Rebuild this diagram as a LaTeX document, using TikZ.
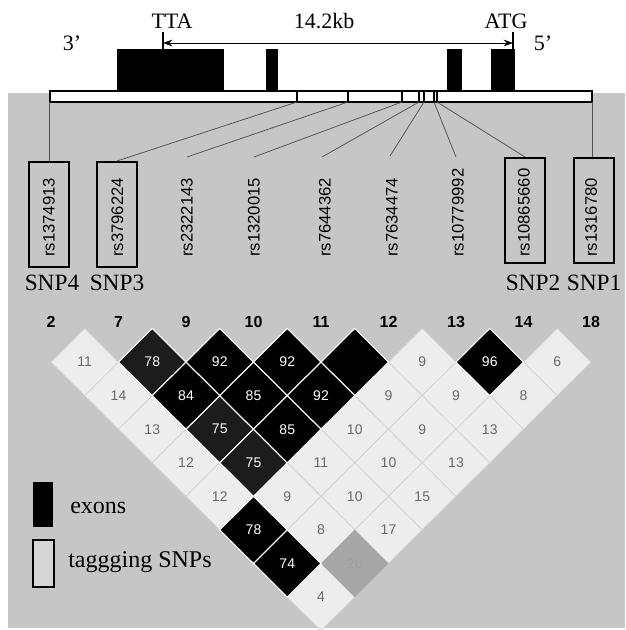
\documentclass[tikz,border=0pt]{standalone}
\usepackage{fontspec}
\setmainfont{Liberation Serif}
\setsansfont{Liberation Sans}
\usetikzlibrary{arrows.meta}
\definecolor{bggray}{HTML}{C6C6C6}
\definecolor{lightcell}{HTML}{EDEDED}
\definecolor{lightedge}{HTML}{D2D2D2}
\definecolor{midcell}{HTML}{A6A6A6}
\definecolor{darkcell}{HTML}{1C1C1C}
\definecolor{numgray}{HTML}{6A6A6A}
\definecolor{leader}{HTML}{505050}
\definecolor{legfill}{HTML}{D6D6D6}
\tikzset{
  toplbl/.style={font=\fontsize{16.5}{18}\selectfont, inner sep=0pt},
  rslbl/.style={font=\sffamily\fontsize{12.5}{14}\selectfont, rotate=90, anchor=west, inner sep=0pt},
  snplbl/.style={font=\fontsize{17.5}{20}\selectfont, inner sep=0pt},
  hdr/.style={font=\sffamily\bfseries\fontsize{12}{14}\selectfont, inner sep=0pt},
  snpbox/.style={draw, line width=1.5pt, minimum width=30pt, minimum height=78.75pt, inner sep=0pt},
  leadline/.style={draw=leader, line width=0.55pt},
  exon/.style={fill=black},
  cellL/.style={fill=lightcell, draw=lightedge, line width=0.5pt},
  cellG/.style={fill=midcell},
  cellD/.style={fill=darkcell, draw=white, line width=0.8pt},
  cellB/.style={fill=black, draw=white, line width=0.8pt},
  numL/.style={font=\sffamily\fontsize{10.5}{12}\selectfont, text=numgray, inner sep=0pt},
  numG/.style={font=\sffamily\fontsize{10.5}{12}\selectfont, text=gray!75, inner sep=0pt},
  numD/.style={font=\sffamily\fontsize{10.5}{12}\selectfont, text=white, inner sep=0pt},
  numB/.style={font=\sffamily\fontsize{10.5}{12}\selectfont, text=white, inner sep=0pt},
  legtext/.style={font=\fontsize{18}{20}\selectfont, inner sep=0pt, anchor=base west},
}
\begin{document}
\begin{tikzpicture}[x=0.75pt,y=-0.75pt]
\useasboundingbox (0,0) rectangle (625,630);
\fill[white] (0,0) rectangle (625,630);
\fill[bggray] (8,93) rectangle (625,628);

% ---- gene structure ----
\fill[exon] (117,49) rectangle (224,91);
\fill[exon] (266,49) rectangle (278,91);
\fill[exon] (447,49) rectangle (462,91);
\fill[exon] (491,49) rectangle (515,91);
\draw[fill=white, line width=0.8pt] (50,91) rectangle (592,102);
\foreach \tx in {297,348,402,419,424,434,437}
  \draw[line width=1.2pt] (\tx,91) -- (\tx,102);

\node[toplbl] (tta) at (172,21) {TTA};
\node[toplbl] (kb) at (324,21) {14.2kb};
\node[toplbl] (atg) at (506,21) {ATG};
\node[toplbl] (three) at (72,43) {3'};
\node[toplbl] (five) at (543,43) {5'};

\coordinate (ttaT) at (163,32);
\coordinate (ttaB) at (163,49);
\coordinate (atgT) at (513,32);
\coordinate (atgB) at (513,49);
\coordinate (ttaA) at (163,43);
\coordinate (atgA) at (513,43);
\draw[line width=0.8pt] (ttaT) -- (ttaB);
\draw[line width=0.8pt] (atgT) -- (atgB);
\draw[line width=0.6pt, {Stealth[length=7pt,width=5pt]}-{Stealth[length=7pt,width=5pt]}] (ttaA) -- (atgA);

% ---- SNP labels ----
\node[snpbox] (b1) at (49,214.5) {};
\node[snpbox] (b2) at (117,214.5) {};
\node[snpbox] (b8) at (525,210.5) {};
\node[snpbox] (b9) at (593.5,210.5) {};

\node[rslbl] (t1) at (49,257) {rs1374913};
\node[rslbl] (t2) at (117.5,257) {rs3796224};
\node[rslbl] (t3) at (187,257) {rs2322143};
\node[rslbl] (t4) at (254,257) {rs1320015};
\node[rslbl] (t5) at (325,257) {rs7644362};
\node[rslbl] (t6) at (392,257) {rs7634474};
\node[rslbl] (t7) at (458,257) {rs10779992};
\node[rslbl] (t8) at (524,257) {rs10865660};
\node[rslbl] (t9) at (591,257) {rs1316780};

% leader lines from gene bar
\coordinate (p1) at (49,102);
\coordinate (p2) at (297,102);
\coordinate (p3) at (348,102);
\coordinate (p4) at (402,102);
\coordinate (p5) at (419,102);
\coordinate (p6) at (424,102);
\coordinate (p7) at (434,102);
\coordinate (p8) at (437,102);
\coordinate (p9) at (592,102);
\coordinate (e3) at (187,157);
\coordinate (e4) at (254,157);
\coordinate (e5) at (322,157);
\coordinate (e6) at (390,156);
\coordinate (e7) at (456,157);
\path[leadline] (p1) -- (b1.north);
\path[leadline] (p2) -- (b2.north);
\path[leadline] (p3) -- (e3);
\path[leadline] (p4) -- (e4);
\path[leadline] (p5) -- (e5);
\path[leadline] (p6) -- (e6);
\path[leadline] (p7) -- (e7);
\path[leadline] (p8) -- (b8.north);
\path[leadline] (p9) -- (p9 |- b9.north);

\node[snplbl] (snp4) at (52,283) {SNP4};
\node[snplbl] (snp3) at (117,283) {SNP3};
\node[snplbl] (snp2) at (533,283) {SNP2};
\node[snplbl] (snp1) at (594,283) {SNP1};

% ---- header numbers ----
\foreach \n/\hx [count=\j] in {2/51,7/118.5,9/186,10/253.5,11/321,12/388.5,13/456,14/523.5,18/591}
  \node[hdr] (h\j) at (\hx,322) {\n};

% ---- LD diamonds ----
\foreach \k/\i/\v/\s in {
  1/0/11/L, 1/5/9/L, 1/7/6/L,
  2/0/14/L, 2/4/9/L, 2/5/9/L, 2/6/8/L,
  3/0/13/L, 3/3/10/L, 3/4/9/L, 3/5/13/L,
  4/0/12/L, 4/2/11/L, 4/3/10/L, 4/4/13/L,
  5/0/12/L, 5/1/9/L, 5/2/10/L, 5/3/15/L,
  6/1/8/L, 6/2/17/L,
  8/0/4/L,
  7/1/26/G,
  1/1/78/D, 3/1/75/D, 4/1/75/D,
  1/2/92/B, 1/3/92/B, 1/4/{}/B, 1/6/96/B,
  2/1/84/B, 2/2/85/B, 2/3/92/B,
  3/2/85/B, 6/0/78/B, 7/0/74/B}
{
  \pgfmathsetmacro\cx{51+67.5*(\i+\k/2)}
  \pgfmathsetmacro\cy{328.5+33.57*\k}
  \path[cell\s] (\cx-33.75,\cy) -- (\cx,\cy-33.57) -- (\cx+33.75,\cy) -- (\cx,\cy+33.57) -- cycle;
  \node[num\s] (c\k-\i) at (\cx,\cy) {\v};
}

% ---- legend ----
\node[fill=black, minimum width=15pt, minimum height=33.75pt, inner sep=0pt] (legex) at (43,504.5) {};
\node[legtext] (legexT) at (70,513) {exons};
\node[draw, line width=1.5pt, fill=legfill, minimum width=15.75pt, minimum height=35.25pt, inner sep=0pt] (legsnp) at (43.5,563.5) {};
\node[legtext] (legsnpT) at (68,567) {taggging SNPs};
\end{tikzpicture}
\end{document}
